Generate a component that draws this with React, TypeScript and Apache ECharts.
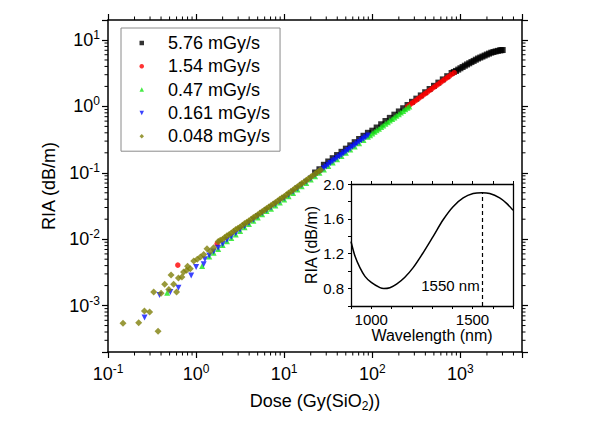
import React, { useEffect, useRef } from 'react';
import * as echarts from 'echarts';

const FONT = '"Liberation Sans", Arial, sans-serif';

const seriesNames = ['5.76 mGy/s', '1.54 mGy/s', '0.47 mGy/s', '0.161 mGy/s', '0.048 mGy/s'];

// [dose (Gy), RIA (dB/m)]
const rate576 = [[22.4,0.101],[25.1,0.113],[28.2,0.132],[31.6,0.148],[35.5,0.166],[39.8,0.185],[44.7,0.207],[50.1,0.231],[56.2,0.259],[63.1,0.289],[70.8,0.323],[79.4,0.361],[89.1,0.4],[100,0.431],[112,0.481],[126,0.538],[141,0.602],[158,0.672],[178,0.751],[200,0.839],[224,0.938],[251,1.049],[282,1.172],[316,1.309],[355,1.463],[398,1.634],[447,1.827],[501,2.04],[562,2.28],[631,2.55],[708,2.85],[794,3.18],[841,3.3],[891,3.42],[944,3.58],[1000,3.75],[1059,3.92],[1122,4.1],[1189,4.28],[1259,4.46],[1334,4.65],[1413,4.84],[1496,5.05],[1585,5.26],[1679,5.44],[1778,5.63],[1884,5.83],[1995,6.04],[2113,6.24],[2239,6.44],[2371,6.59],[2512,6.73],[2661,6.86],[2818,6.98],[2917,7.02],[3020,7.06]];

const rate154 = [[0.62,0.00407],[1.73,0.0085],[251,0.99],[266,1.055],[282,1.116],[299,1.18],[316,1.247],[335,1.318],[355,1.393],[376,1.472],[398,1.556],[422,1.645],[447,1.74],[473,1.839],[501,1.943],[531,2.054],[562,2.171],[596,2.295],[631,2.426],[668,2.564],[708,2.71],[750,2.865],[794,3.028],[851,3.22]];

const rate047 = [[0.47,0.00156],[1.17,0.00395],[1.41,0.00547],[1.58,0.00624],[1.78,0.0071],[2.0,0.00816],[2.24,0.00931],[2.51,0.01046],[2.82,0.0118],[3.16,0.01334],[3.55,0.01507],[3.98,0.0169],[4.47,0.01891],[5.01,0.02122],[5.62,0.02371],[6.31,0.02659],[7.08,0.0288],[7.94,0.0322],[8.91,0.0357],[10,0.0397],[11.2,0.0444],[12.6,0.0497],[14.1,0.0559],[15.8,0.0626],[17.8,0.0704],[20,0.0789],[22.4,0.0888],[25.1,0.0998],[28.2,0.1123],[31.6,0.1265],[35.5,0.1429],[39.8,0.1598],[44.7,0.1787],[50.1,0.1997],[56.2,0.2237],[63.1,0.2496],[70.8,0.2794],[79.4,0.312],[89.1,0.3485],[94.4,0.369],[100,0.3916],[106,0.414],[112,0.4374],[119,0.462],[126,0.489],[133,0.517],[141,0.5472],[150,0.578],[158,0.6112],[168,0.646],[178,0.6828],[188,0.722],[200,0.763],[211,0.807],[224,0.8528],[237,0.902],[251,0.954],[263,1.0]];

const rate0161 = [[0.26,0.00066],[0.385,0.00144],[0.51,0.0016],[0.63,0.00186],[0.88,0.00285],[1.0,0.0038],[1.22,0.0042],[1.26,0.005],[1.41,0.0057],[1.58,0.0065],[1.78,0.0074],[2.0,0.0085],[2.24,0.0097],[2.51,0.0109],[2.82,0.0123],[3.16,0.0139],[3.55,0.0157],[3.98,0.0176],[4.47,0.0197],[5.01,0.0221],[5.62,0.0247],[6.31,0.0272],[7.08,0.03],[7.94,0.0335],[8.91,0.0372],[10,0.0414],[11.2,0.0463],[12.6,0.0518],[14.1,0.0582],[15.8,0.0652],[17.8,0.0733],[20,0.0822],[22.4,0.0925],[25.1,0.104],[26.6,0.11],[28.2,0.117],[29.9,0.124],[31.6,0.1318],[33.5,0.14],[35.5,0.1489],[37.6,0.157],[39.8,0.1665],[42.2,0.176],[44.7,0.1861],[47.3,0.197],[50.1,0.208],[53.1,0.22],[56.2,0.233],[59.6,0.246],[63.1,0.26],[66.8,0.275],[70.8,0.291],[75.0,0.308],[79.4,0.325],[84.1,0.344],[89.1,0.363]];

const rate0048 = [[0.148,0.00054],[0.223,0.00055],[0.259,0.00083],[0.297,0.0008],[0.37,0.00041],[0.33,0.0016],[0.4,0.00153],[0.44,0.0021],[0.49,0.00175],[0.52,0.0029],[0.556,0.0021],[0.6,0.0016],[0.63,0.0026],[0.69,0.0027],[0.72,0.0032],[0.78,0.0034],[0.8,0.0039],[0.86,0.0036],[0.94,0.0047],[1.03,0.005],[1.12,0.0054],[1.22,0.0059],[1.33,0.0072],[1.45,0.0066],[1.58,0.0074],[1.78,0.0092],[1.88,0.0096],[2.0,0.01],[2.11,0.0106],[2.24,0.0113],[2.37,0.0118],[2.51,0.0124],[2.66,0.0132],[2.82,0.014],[2.99,0.0146],[3.16,0.0153],[3.35,0.0162],[3.55,0.0172],[3.76,0.018],[3.98,0.0189],[4.22,0.02],[4.47,0.0212],[4.73,0.0222],[5.01,0.0234],[5.31,0.0248],[5.62,0.0262],[5.96,0.0275],[6.31,0.0289],[6.68,0.0306],[7.08,0.0323],[7.5,0.034],[7.94,0.0357],[8.41,0.0377],[8.91,0.0398],[9.44,0.0419],[10,0.0441],[10.6,0.0467],[11.2,0.0495],[11.9,0.0522],[12.6,0.0551],[13.3,0.0584],[14.1,0.0618],[15.0,0.0652],[15.8,0.0689],[16.8,0.0729],[17.8,0.0772],[18.8,0.0815],[20,0.0861],[21.1,0.0911],[22.4,0.0964],[23.7,0.1018],[25.1,0.1076],[26,0.111]];

// inset: RIA spectrum
const waveNm = [900, 920, 944, 969, 1000, 1043, 1062, 1092, 1125, 1166, 1207, 1256, 1306, 1355, 1404, 1454, 1503, 1547, 1585, 1634, 1667, 1700];
const insetRia = [1.34, 1.17, 1.04, 0.94, 0.87, 0.81, 0.80, 0.81, 0.85, 0.93, 1.04, 1.21, 1.40, 1.59, 1.74, 1.84, 1.89, 1.90, 1.89, 1.84, 1.78, 1.70];
const markWave = 1550;
const markLabel = '1550 nm';
const insetXLabels = [1000, 1500];
const insetYLabels = [0.8, 1.2, 1.6, 2.0];

// log-axis minor ticks
const xMinorTicks = [0.2,0.3,0.4,0.5,0.6,0.7,0.8,0.9,2,3,4,5,6,7,8,9,20,30,40,50,60,70,80,90,200,300,400,500,600,700,800,900,2000,3000,4000];
const yMinorTicks = [0.0003,0.0004,0.0005,0.0006,0.0007,0.0008,0.0009,0.002,0.003,0.004,0.005,0.006,0.007,0.008,0.009,0.02,0.03,0.04,0.05,0.06,0.07,0.08,0.09,0.2,0.3,0.4,0.5,0.6,0.7,0.8,0.9,2,3,4,5,6,7,8,9];

const powRich = {
  b: { fontSize: 18, lineHeight: 22, fontFamily: FONT, color: '#000' },
  s: { fontSize: 12, lineHeight: 12, fontFamily: FONT, color: '#000', verticalAlign: 'top' },
};

function powLabel(v: number) {
  const e = Math.log10(v);
  const r = Math.round(e);
  if (Math.abs(e - r) > 1e-6) return '';
  return `{b|10}{s|${r}}`;
}

const axisLineStyle = { color: '#000', width: 1.5 };

export default function App() {
  const ref = useRef<HTMLDivElement>(null);
  useEffect(() => {
    if (!ref.current) return;
    const chart = echarts.init(ref.current, null, { renderer: 'svg' });
    const mainX = (pos: string, labels: boolean) => ({
      type: 'log', gridIndex: 0, position: pos, min: 0.1, max: 5000, logBase: 10,
      axisLine: { show: true, onZero: false, lineStyle: axisLineStyle },
      axisTick: { show: true, inside: false, length: 6, lineStyle: { color: '#000', width: 1.2 } },
      axisLabel: labels ? { show: true, margin: 11, formatter: powLabel, rich: powRich } : { show: false },
      splitLine: { show: false },
      ...(labels ? {
        name: '{a|Dose (Gy(SiO}{u|2}{a|))}', nameLocation: 'middle', nameGap: 38,
        nameTextStyle: { rich: {
          a: { fontSize: 18, lineHeight: 22, fontFamily: FONT, color: '#000' },
          u: { fontSize: 12, lineHeight: 12, fontFamily: FONT, color: '#000', verticalAlign: 'bottom' },
        } },
      } : {}),
    });
    const mainY = (pos: string, labels: boolean) => ({
      type: 'log', gridIndex: 0, position: pos, min: 0.0002, max: 20, logBase: 10,
      axisLine: { show: true, onZero: false, lineStyle: axisLineStyle },
      axisTick: { show: true, inside: false, length: 6, lineStyle: { color: '#000', width: 1.2 } },
      axisLabel: labels ? { show: true, margin: 8, formatter: powLabel, rich: powRich } : { show: false },
      splitLine: { show: false },
      ...(labels ? {
        name: 'RIA (dB/m)', nameLocation: 'middle', nameGap: 45,
        nameTextStyle: { fontSize: 18, fontFamily: FONT, color: '#000' },
      } : {}),
    });
    const minorStyle = { stroke: '#000', lineWidth: 1 };
    const option: any = {
      animation: false,
      backgroundColor: '#fff',
      textStyle: { fontFamily: FONT },
      grid: [
        { left: 108, right: 83, top: 20, bottom: 77 },
        { left: 351, top: 184, width: 162, height: 122 },
      ],
      legend: {
        show: true,
        data: seriesNames,
        orient: 'vertical',
        left: 121,
        top: 28,
        padding: [6, 10, 6, 18.5],
        itemGap: 5.3,
        itemWidth: 4.5,
        itemHeight: 4.5,
        borderColor: '#8a8a8a',
        borderWidth: 1,
        selectedMode: false,
        textStyle: { fontSize: 18, lineHeight: 18, fontFamily: FONT, color: '#000', padding: [0, 0, 0, 19] },
      },
      xAxis: [
        mainX('bottom', true),
        mainX('top', false),
        {
          type: 'value', gridIndex: 1, position: 'bottom', min: 900, max: 1700, interval: 100,
          axisLine: { show: true, onZero: false, lineStyle: { color: '#000', width: 1.3 } },
          axisTick: { show: true, inside: false, length: 3, lineStyle: { color: '#000', width: 1 } },
          axisLabel: { show: true, margin: 6, fontSize: 15, fontFamily: FONT, color: '#000',
            formatter: (v: number) => (insetXLabels.includes(Math.round(v)) ? String(Math.round(v)) : '') },
          splitLine: { show: false },
          name: 'Wavelength (nm)', nameLocation: 'middle', nameGap: 18,
          nameTextStyle: { fontSize: 16, fontFamily: FONT, color: '#000' },
        },
        {
          type: 'value', gridIndex: 1, position: 'top', min: 900, max: 1700, interval: 100,
          axisLine: { show: true, onZero: false, lineStyle: { color: '#000', width: 1.3 } },
          axisTick: { show: true, inside: false, length: 3, lineStyle: { color: '#000', width: 1 } },
          axisLabel: { show: false },
          splitLine: { show: false },
        },
      ],
      yAxis: [
        mainY('left', true),
        mainY('right', false),
        {
          type: 'value', gridIndex: 1, position: 'left', min: 0.6, max: 2.0, interval: 0.2,
          axisLine: { show: true, onZero: false, lineStyle: { color: '#000', width: 1.3 } },
          axisTick: { show: true, inside: false, length: 3, lineStyle: { color: '#000', width: 1 } },
          axisLabel: { show: true, margin: 7, fontSize: 15, fontFamily: FONT, color: '#000',
            formatter: (v: number) => (insetYLabels.some((t) => Math.abs(t - v) < 1e-6) ? v.toFixed(1) : '') },
          splitLine: { show: false },
          name: 'RIA (dB/m)', nameLocation: 'middle', nameGap: 25,
          nameTextStyle: { fontSize: 16, fontFamily: FONT, color: '#000' },
        },
        {
          type: 'value', gridIndex: 1, position: 'right', min: 0.6, max: 2.0, interval: 0.2,
          axisLine: { show: true, onZero: false, lineStyle: { color: '#000', width: 1.3 } },
          axisTick: { show: false },
          axisLabel: { show: false },
          splitLine: { show: false },
        },
      ],
      series: [
        {
          type: 'custom', name: 'xminor', xAxisIndex: 0, yAxisIndex: 0, silent: true, clip: false,
          data: xMinorTicks.map((v) => [v, 1]),
          renderItem: (params: any, api: any) => {
            const cs = params.coordSys;
            const px = api.coord([api.value(0), 1])[0];
            const yb = cs.y + cs.height;
            return { type: 'group', children: [
              { type: 'line', shape: { x1: px, y1: yb, x2: px, y2: yb + 3.5 }, style: minorStyle },
              { type: 'line', shape: { x1: px, y1: cs.y, x2: px, y2: cs.y - 3.5 }, style: minorStyle },
            ] };
          },
        },
        {
          type: 'custom', name: 'yminor', xAxisIndex: 0, yAxisIndex: 0, silent: true, clip: false,
          data: yMinorTicks.map((v) => [1, v]),
          renderItem: (params: any, api: any) => {
            const cs = params.coordSys;
            const py = api.coord([1, api.value(1)])[1];
            const xr = cs.x + cs.width;
            return { type: 'group', children: [
              { type: 'line', shape: { x1: cs.x, y1: py, x2: cs.x - 3.5, y2: py }, style: minorStyle },
              { type: 'line', shape: { x1: xr, y1: py, x2: xr + 3.5, y2: py }, style: minorStyle },
            ] };
          },
        },
        { type: 'scatter', name: seriesNames[0], xAxisIndex: 0, yAxisIndex: 0, data: rate576,
          symbol: 'rect', symbolSize: 6, itemStyle: { color: '#000000' } },
        { type: 'scatter', name: seriesNames[1], xAxisIndex: 0, yAxisIndex: 0, data: rate154,
          symbol: 'circle', symbolSize: 5.5, itemStyle: { color: '#ff0000' } },
        { type: 'scatter', name: seriesNames[2], xAxisIndex: 0, yAxisIndex: 0, data: rate047,
          symbol: 'triangle', symbolSize: 6, itemStyle: { color: '#19e619' } },
        { type: 'scatter', name: seriesNames[3], xAxisIndex: 0, yAxisIndex: 0, data: rate0161,
          symbol: 'path://M0,0L10,0L5,10Z', symbolSize: 6, itemStyle: { color: '#0a14ff' } },
        { type: 'scatter', name: seriesNames[4], xAxisIndex: 0, yAxisIndex: 0, data: rate0048,
          symbol: 'diamond', symbolSize: 7, itemStyle: { color: '#7f7f0a' } },
        {
          type: 'line', name: 'spectrum', xAxisIndex: 2, yAxisIndex: 2,
          data: waveNm.map((w, i) => [w, insetRia[i]]),
          showSymbol: false, symbol: 'none', smooth: 0.3,
          lineStyle: { color: '#000', width: 1.5 },
          markLine: {
            silent: true, symbol: ['none', 'none'], label: { show: false },
            lineStyle: { color: '#000', type: [4, 3], width: 1.2 },
            data: [[{ coord: [markWave, 0.6] }, { coord: [markWave, 1.9] }]],
          },
        },
        {
          type: 'scatter', name: 'marklabel', xAxisIndex: 2, yAxisIndex: 2,
          data: [[markWave, 0.83]], symbolSize: 0, itemStyle: { color: '#000', opacity: 1 }, silent: true,
          label: { show: true, position: 'left', distance: 3, formatter: markLabel,
            fontSize: 15, fontFamily: FONT, color: '#000', opacity: 1, textBorderWidth: 0 },
        },
      ],
    };
    chart.setOption(option);
    return () => chart.dispose();
  }, []);
  return <div ref={ref} style={{ position: 'fixed', left: 0, top: 0, width: 605, height: 429, background: '#fff' }} />;
}
